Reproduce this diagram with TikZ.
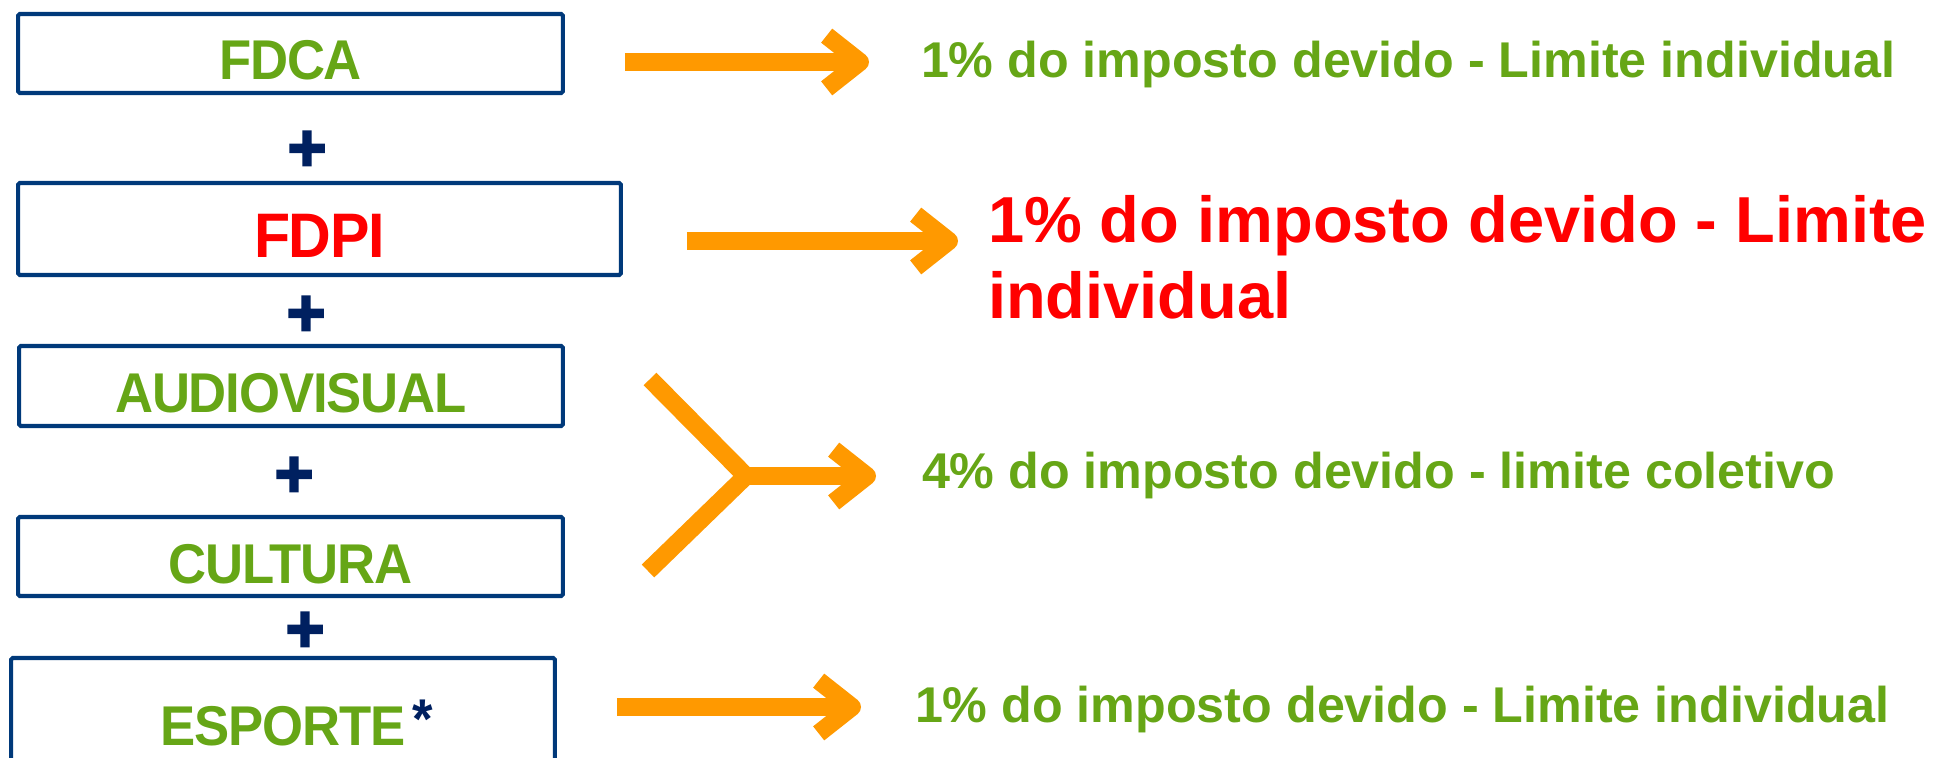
\documentclass[tikz,border=0pt]{standalone}
\usepackage{fontspec}
\setmainfont{Liberation Sans}
\newfontfamily\boxfont[FakeStretch=0.94, LetterSpace=-2]{Liberation Sans}
\newfontfamily\plusfont[FakeBold=3]{Liberation Sans}
\usetikzlibrary{arrows.meta}
\definecolor{verde}{HTML}{66A616}
\definecolor{azul}{HTML}{00397A}
\definecolor{marinho}{HTML}{002060}
\definecolor{laranja}{HTML}{FF9900}
\definecolor{vermelho}{HTML}{FF0000}

\begin{document}
\begin{tikzpicture}[x=.02cm, y=.02cm]
  \tikzstyle{every node}+=[inner sep=0pt, outer sep=0pt]
  \tikzset{
    box/.style={draw=azul, line width=2.3pt, rounded corners=1pt, minimum width=10.9cm, minimum height=1.58cm,
      text height=1.06cm, text depth=0pt, text=verde, font=\boxfont\bfseries\fontsize{31.9}{36}\selectfont},
    lim/.style={anchor=base west, text=verde, font=\bfseries\fontsize{28.6}{34}\selectfont},
    mais/.style={text=marinho, font=\plusfont\bfseries\fontsize{38}{40}\selectfont},
    arr/.style={draw=laranja, line width=10.2pt, -{Straight Barb[length=19pt, width=30pt, line cap=butt, line join=round]}},
    ramo/.style={draw=laranja, line width=10.2pt}
  }
  \useasboundingbox (0,0) rectangle (1943,-757);
  \clip (0,0) rectangle (1943,-757);
  \draw (290.5,-53.5) node [box] (fdca) {FDCA};
  \draw (319.5,-229) node [box, minimum width=12.06cm, minimum height=1.84cm, text height=1.16cm,
    text=vermelho, font=\boxfont\bfseries\fontsize{35.8}{40}\selectfont] (fdpi) {FDPI};
  \draw (291,-386) node [box, minimum width=10.88cm, minimum height=1.6cm] (audio) {AUDIOVISUAL};
  \draw (290.5,-556.5) node [box] (cultura) {CULTURA};
  \draw (283,-718.5) node [box, minimum width=10.88cm, minimum height=2.42cm] (esporte)
    {ESPORTE\rlap{\hspace{0.14cm}\raisebox{0.14cm}{\color{marinho}*}}};
  \draw (307,-151) node [mais] (p1) {+};
  \draw (306,-316) node [mais] (p2) {+};
  \draw (294,-477) node [mais] (p3) {+};
  \draw (305,-632) node [mais] (p4) {+};
  \draw (921,-78) node [lim] (lim1) {1\% do imposto devido - Limite individual};
  \draw (988,-318) node [lim, align=left, text=vermelho, font=\bfseries\fontsize{37}{42.7}\selectfont] (lim2)
    {1\% do imposto devido - Limite\\individual};
  \draw (922,-488) node [lim] (lim3) {4\% do imposto devido - limite coletivo};
  \draw (915,-722) node [lim] (lim4) {1\% do imposto devido - Limite individual};
  \coordinate (tip1) at (869,-62);
  \coordinate (tip2) at (958,-241);
  \coordinate (tip4) at (861,-707);
  \coordinate (cima) at (650,-379);
  \coordinate (baixo) at (648,-571);
  \coordinate (junta) at (746,-476);
  \coordinate (tip3) at (876,-476);
  \draw [arr, shorten <=1.24cm] (fdca.east |- tip1) -- (tip1);
  \draw [arr, shorten <=1.32cm] (fdpi.east |- tip2) -- (tip2);
  \draw [arr, shorten <=1.24cm] (esporte.east |- tip4) -- (tip4);
  \draw [arr] (cima) -- (junta) -- (tip3);
  \draw [ramo] (baixo) -- (junta);
\end{tikzpicture}
\end{document}
